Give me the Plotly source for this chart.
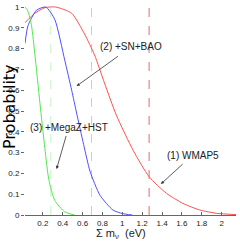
import plotly.graph_objects as go

# WMAP5 alone (red)
red_x = [0.02, 0.12, 0.22, 0.33, 0.49, 0.62, 0.72, 0.82, 0.94, 1.11, 1.27, 1.445, 1.61, 1.78, 1.95, 2.145]
red_y = [0.925, 0.97, 0.997, 1.0, 0.97, 0.87, 0.77, 0.635, 0.48, 0.31, 0.184, 0.104, 0.056, 0.024, 0.008, 0.002]

# +SN+BAO (blue)
blue_x = [0.02, 0.05, 0.136, 0.23, 0.32, 0.42, 0.49, 0.54, 0.61, 0.675, 0.775, 0.905, 1.0, 1.1]
blue_y = [0.825, 0.91, 0.985, 1.0, 0.94, 0.745, 0.6, 0.49, 0.34, 0.21, 0.095, 0.024, 0.007, 0.0]

# +MegaZ+HST (green)
green_x = [0.02, 0.05, 0.086, 0.12, 0.17, 0.22, 0.26, 0.32, 0.42, 0.52]
green_y = [1.0, 0.98, 0.91, 0.77, 0.54, 0.32, 0.17, 0.07, 0.015, 0.0]

# 95% upper limits (dashed verticals)
limits = [0.28, 0.69, 1.27]
limit_span = [0, 1.005]

x_ticks = [0.2, 0.4, 0.6, 0.8, 1.0, 1.2, 1.4, 1.6, 1.8, 2.0]
x_tick_text = ["0.2", "0.4", "0.6", "0.8", "1", "1.2", "1.4", "1.6", "1.8", "2"]
y_ticks = [0, 0.1, 0.2, 0.3, 0.4, 0.5, 0.6, 0.7, 0.8, 0.9, 1.0]
y_tick_text = ["0", "0.1", "0.2", "0.3", "0.4", "0.5", "0.6", "0.7", "0.8", "0.9", "1"]

XR = [0.02, 2.145]
YR = [0, 1.005]

fig = go.Figure()

limit_colors = ["#c8f0c8", "#c8c8f0", "#e06a6a"]
for lx, col in zip(limits, limit_colors):
    fig.add_trace(go.Scatter(x=[lx, lx], y=limit_span, mode="lines",
                             line=dict(color=col, width=1, dash="dash"),
                             hoverinfo="skip", showlegend=False))

line_kw = dict(width=1, shape="spline", smoothing=0.6)
fig.add_trace(go.Scatter(x=red_x, y=red_y, mode="lines", line=dict(color="#ff5050", **line_kw), showlegend=False))
fig.add_trace(go.Scatter(x=blue_x, y=blue_y, mode="lines", line=dict(color="#5050ff", **line_kw), showlegend=False))
fig.add_trace(go.Scatter(x=green_x, y=green_y, mode="lines", line=dict(color="#50e850", **line_kw), showlegend=False))

tickfont = dict(family="Liberation Sans, Arial, sans-serif", size=8, color="#222")
ann_font = dict(family="Liberation Sans, Arial, sans-serif", size=10, color="#222")

L, R, T, B = 25, 4, 6, 30
W, H = 240, 245
plot_w = W - L - R
plot_h = H - T - B

fig.update_layout(
    template="none",
    width=W, height=H,
    margin=dict(l=L, r=R, t=T, b=B, autoexpand=False),
    paper_bgcolor="white", plot_bgcolor="white",
    xaxis=dict(range=XR, tickvals=x_ticks, ticktext=x_tick_text, ticks="inside", ticklen=3,
               tickcolor="#666", showline=True, linecolor="#666", linewidth=1,
               showgrid=False, zeroline=False, tickfont=tickfont, automargin=False),
    yaxis=dict(range=YR, tickvals=y_ticks, ticktext=y_tick_text, ticks="outside", ticklen=3,
               tickcolor="#666", showline=False, showgrid=False, zeroline=False,
               tickfont=tickfont, automargin=False),
    xaxis2=dict(range=XR, overlaying="x", side="top", tickvals=[0.6, 1.2, 1.8], ticks="inside",
                ticklen=3, tickcolor="#555", showticklabels=False, showline=True,
                linecolor="#eeeeee", showgrid=False, zeroline=False, automargin=False),
    yaxis2=dict(range=YR, overlaying="y", side="right", tickvals=y_ticks, ticks="inside",
                ticklen=3, tickcolor="#666", showticklabels=False, showline=True,
                linecolor="#777", linewidth=1, showgrid=False, zeroline=False, automargin=False),
    annotations=[
        dict(x=0.54, y=0.62, ax=1.086, ay=0.808, xref="x", yref="y", axref="x", ayref="y",
             text="(2) +SN+BAO", showarrow=True, arrowhead=2, arrowsize=0.8, arrowwidth=0.8,
             arrowcolor="#333", startstandoff=4, font=ann_font),
        dict(x=0.338, y=0.221, ax=0.46, ay=0.423, xref="x", yref="y", axref="x", ayref="y",
             text="(3) +MegaZ+HST", showarrow=True, arrowhead=2, arrowsize=0.8, arrowwidth=0.8,
             arrowcolor="#333", startstandoff=2, font=ann_font),
        dict(x=1.389, y=0.149, ax=1.707, ay=0.288, xref="x", yref="y", axref="x", ayref="y",
             text="(1) WMAP5", showarrow=True, arrowhead=2, arrowsize=0.8, arrowwidth=0.8,
             arrowcolor="#333", startstandoff=3, font=ann_font),
        dict(x=(9 - L) / plot_w, y=(H - B - 107) / plot_h, xref="paper", yref="paper",
             xanchor="center", yanchor="middle", text="Probability", showarrow=False,
             textangle=-90, font=dict(family="DejaVu Sans, sans-serif", size=16, color="#000")),
        dict(x=(121 - L) / plot_w, y=(H - B - 234) / plot_h, xref="paper", yref="paper",
             xanchor="center", yanchor="middle", text="Σ m<sub>ν</sub>  (eV)",
             showarrow=False, font=dict(family="Liberation Sans, Arial, sans-serif", size=11, color="#222")),
    ],
)

fig.write_html("out.html", config={"displayModeBar": False, "staticPlot": True},
               post_script="document.body.style.margin='0';document.body.style.overflow='hidden';")
